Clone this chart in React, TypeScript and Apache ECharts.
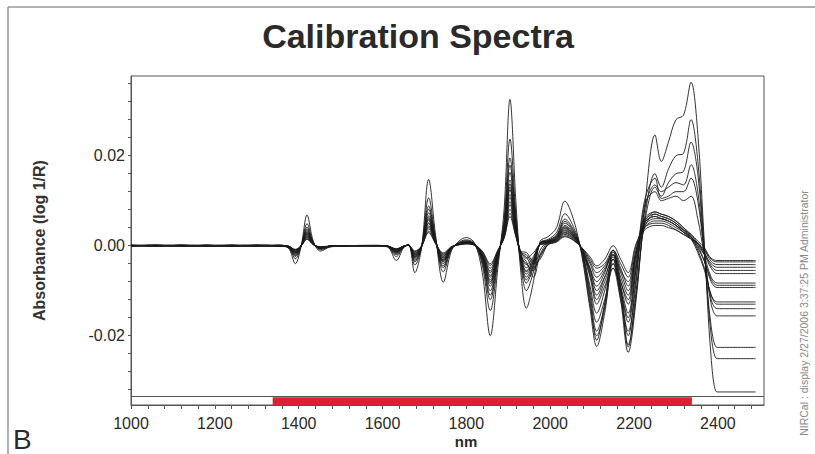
import React, { useEffect, useRef } from "react";
import * as echarts from "echarts";

// Wavelength sampling points (nm)
const wavelengths = [
  1000, 1060, 1120, 1180, 1240, 1300, 1350,
  1375, 1392, 1406, 1420, 1435, 1452, 1475, 1520, 1580, 1612, 1633, 1650, 1662, 1677,
  1693, 1710, 1727, 1745, 1765, 1785, 1800, 1820, 1838, 1857, 1875, 1890, 1904, 1918,
  1930, 1943, 1960, 1976, 1995, 2015, 2035, 2055, 2075, 2095,
  2111, 2130, 2150, 2168, 2186, 2205, 2225, 2250, 2265, 2282, 2300, 2318, 2336, 2352,
  2368, 2384, 2398, 2410, 2490,
];

// Second-derivative absorbance values, in units of 0.001 (log 1/R)
const spectrum01 = [0, 0.1, -0.1, 0.1, 0, -0.1, 0,
  -0.5, -4.0, 0, 6.8, 1.0, -1.2, -0.3, 0, 0, -0.3, -3.3, -0.5, 0.3, -6.0, -0.5, 14.7, 2.0, -8.1, -1.0, 1.2, 1.8, 0.5, -6.0, -20.0, -5.0, 8.0, 32.5, 10.0, -6.0, -13.9, -8.0, 1.0, 2.0, 4.0, 9.9, 6.0, -2.0, -14.0,
  -22.4, -15.0, -3.0, -12.0, -23.7, -12.0, 8.0, 24.6, 18.7, 23.0, 28.0, 29.0, 36.3, 25.0, 0, -25.0, -32.5, -32.5, -32.5];
const spectrum02 = [0.1, 0, 0.1, -0.1, 0.1, 0, -0.1,
  -0.4, -2.9, 0, 4.9, 0.7, -0.9, -0.2, 0, 0.1, -0.2, -2.4, -0.4, 0.2, -4.3, -0.4, 10.6, 1.4, -5.8, -0.7, 0.9, 1.3, 0.4, -4.3, -14.4, -3.6, 5.8, 23.7, 7.2, -4.3, -10.0, -5.8, 0.7, 1.4, 2.9, 7.1, 4.3, -1.4, -13.0,
  -20.0, -14.0, -4.0, -11.0, -22.0, -11.0, 6.0, 16.0, 13.0, 17.0, 20.0, 20.5, 28.0, 19.0, -1.0, -20.0, -25.1, -25.1, -25.1];
const spectrum03 = [-0.1, 0.1, 0, 0.1, -0.1, 0.1, 0,
  -0.3, -2.2, 0, 3.7, 0.6, -0.7, -0.2, 0, 0, -0.2, -1.8, -0.3, 0.2, -3.3, -0.3, 8.1, 1.1, -4.5, -0.6, 0.7, 1.0, 0.3, -3.3, -11.0, -2.8, 4.4, 17.9, 5.5, -3.3, -7.6, -4.4, 0.6, 1.1, 2.2, 5.4, 3.3, -1.1, -12.0,
  -21.0, -13.0, -2.0, -10.0, -22.5, -10.0, 5.0, 13.0, 11.0, 14.0, 16.0, 16.5, 23.0, 16.0, -2.0, -18.0, -22.6, -22.6, -22.6];
const spectrum04 = [0, -0.1, 0.1, 0, 0.1, 0, -0.1,
  -0.3, -2.0, 0, 3.4, 0.5, -0.6, -0.1, 0, 0, -0.1, -1.6, -0.3, 0.1, -3.0, -0.3, 7.3, 1.0, -4.0, -0.5, 0.6, 0.9, 0.3, -3.0, -10.0, -2.5, 4.0, 16.3, 5.0, -3.0, -7.0, -4.0, 0.5, 1.0, 2.0, 5.0, 3.0, -1.0, -10.0,
  -17.0, -12.0, -5.0, -12.0, -19.0, -7.0, 8.0, 13.5, 12.0, 13.0, 14.0, 13.5, 18.0, 12.0, -2.0, -13.0, -15.6, -15.6, -15.6];
const spectrum05 = [0.1, 0, -0.1, 0, 0.1, -0.1, 0.1,
  -0.2, -1.7, 0, 2.9, 0.4, -0.5, -0.1, 0, 0, -0.1, -1.4, -0.2, 0.1, -2.5, -0.2, 6.2, 0.8, -3.4, -0.4, 0.5, 0.8, 0.2, -2.5, -8.4, -2.1, 3.4, 13.7, 4.2, -2.5, -5.8, -3.4, 0.4, 0.8, 1.7, 4.2, 2.5, -1.0, -9.0,
  -15.0, -10.0, -3.0, -10.0, -17.0, -5.0, 10.0, 15.0, 10.5, 11.0, 12.0, 12.0, 15.0, 10.0, -2.0, -12.0, -14.0, -14.0, -14.0];
const spectrum06 = [0, 0.1, 0, -0.1, 0, 0.1, 0,
  -0.3, -2.4, 0, 4.1, 0.6, -0.7, -0.2, 0, 0, -0.2, -2.0, -0.3, 0.2, -3.6, -0.3, 8.8, 1.2, -4.9, -0.6, 0.7, 1.1, 0.3, -3.6, -12.0, -3.0, 4.8, 19.5, 6.0, -3.6, -8.3, -4.8, 0.6, 1.2, 2.4, 5.9, 3.6, -1.2, -11.0,
  -19.0, -13.0, -1.0, -9.0, -20.0, -8.0, 9.0, 12.0, 10.0, 10.5, 11.0, 10.0, 11.0, 6.0, -2.0, -7.0, -8.3, -8.3, -8.3];
const spectrum07 = [-0.1, 0, 0.1, 0, -0.1, 0, 0.1,
  -0.2, -1.5, 0, 2.6, 0.4, -0.5, -0.1, 0, 0, -0.1, -1.3, -0.2, 0.1, -2.3, -0.2, 5.6, 0.8, -3.1, -0.4, 0.5, 0.7, 0.2, -2.3, -7.6, -1.9, 3.0, 12.4, 3.8, -2.3, -4.0, -5.5, -1.0, 1.0, 1.5, 3.8, 2.3, -0.8, -6.0,
  -12.0, -8.0, -4.0, -9.0, -15.0, -4.0, 5.0, 7.5, 7.0, 6.5, 5.5, 4.0, 2.0, -1.0, -5.0, -11.0, -13.0, -13.0, -13.0];
const spectrum08 = [0, 0.1, -0.1, 0.1, 0, 0, -0.1,
  -0.2, -1.3, 0, 2.2, 0.3, -0.4, -0.1, 0, 0, -0.1, -1.1, -0.2, 0.1, -2.0, -0.2, 4.9, 0.7, -2.7, -0.3, 0.4, 0.6, 0.2, -2.0, -6.6, -1.7, 2.6, 10.7, 3.3, -2.0, -3.5, -7.0, -2.0, 0.8, 1.3, 3.3, 2.0, -0.7, -5.0,
  -10.0, -7.0, -3.0, -8.0, -13.0, -3.0, 5.5, 7.0, 6.5, 6.0, 5.0, 3.5, 1.5, -1.5, -5.5, -11.0, -12.5, -12.5, -12.5];
const spectrum09 = [0.1, -0.1, 0, 0.1, -0.1, 0.1, 0,
  -0.2, -1.8, 0, 3.1, 0.5, -0.5, -0.1, 0, 0, -0.1, -1.5, -0.2, 0.1, -2.7, -0.2, 6.6, 0.9, -3.6, -0.5, 0.5, 0.8, 0.2, -2.7, -9.0, -2.3, 3.6, 14.6, 4.5, -2.7, -6.3, -3.6, 0.5, 0.9, 1.8, 4.5, 2.7, -0.9, -7.0,
  -13.0, -9.0, -5.0, -10.0, -16.0, -5.0, 4.0, 7.0, 6.5, 6.0, 5.0, 3.5, 2.0, 0, -3.5, -8.0, -9.3, -9.3, -9.3];
const spectrum10 = [0, 0, 0.1, -0.1, 0, 0.1, -0.1,
  -0.1, -1.1, 0, 1.9, 0.3, -0.3, -0.1, 0, 0, -0.1, -0.9, -0.1, 0.1, -1.7, -0.1, 4.1, 0.6, -2.3, -0.3, 0.3, 0.5, 0.1, -1.7, -5.6, -1.4, 2.2, 9.1, 2.8, -1.7, -2.5, -5.0, -2.5, 0.5, 1.1, 2.8, 1.7, -0.6, -4.0,
  -7.0, -5.0, -2.0, -6.0, -10.0, -2.0, 5.0, 6.5, 6.0, 5.5, 4.5, 3.0, 1.5, -0.5, -3.5, -7.5, -8.8, -8.8, -8.8];
const spectrum11 = [0.1, 0, 0, 0.1, 0, -0.1, 0,
  -0.2, -1.4, 0, 2.4, 0.4, -0.4, -0.1, 0, 0, -0.1, -1.2, -0.2, 0.1, -2.1, -0.2, 5.1, 0.7, -2.8, -0.4, 0.4, 0.6, 0.2, -2.1, -7.0, -1.8, 2.8, 11.4, 3.5, -2.1, -4.9, -2.8, 0.4, 0.7, 1.4, 3.5, 2.1, -0.7, -5.5,
  -9.0, -6.0, -1.0, -5.0, -9.0, -1.0, 6.0, 7.5, 7.0, 6.5, 5.5, 4.0, 2.5, 0.5, -2.0, -5.0, -6.2, -6.2, -6.2];
const spectrum12 = [0, -0.1, 0.1, 0, 0.1, 0, 0,
  -0.1, -1.0, 0, 1.7, 0.3, -0.3, -0.1, 0, 0, -0.1, -0.8, -0.1, 0.1, -1.5, -0.1, 3.7, 0.5, -2.0, -0.3, 0.3, 0.5, 0.1, -1.5, -5.0, -1.3, 2.0, 8.1, 2.5, -1.5, -2.0, -4.0, -3.0, 0.3, 1.0, 2.5, 1.5, -0.5, -3.5,
  -6.0, -4.5, -1.5, -5.5, -8.0, -1.0, 4.0, 5.5, 5.5, 5.0, 4.0, 3.0, 2.0, 0.5, -1.5, -4.5, -5.5, -5.5, -5.5];
const spectrum13 = [-0.1, 0.1, 0, 0, 0.1, -0.1, 0.1,
  -0.2, -1.2, 0, 2.0, 0.3, -0.4, -0.1, 0, 0, -0.1, -1.0, -0.2, 0.1, -1.8, -0.2, 4.4, 0.6, -2.4, -0.3, 0.4, 0.5, 0.2, -1.8, -6.0, -1.5, 2.4, 9.8, 3.0, -1.8, -4.2, -2.4, 0.3, 0.6, 1.2, 3.0, 1.8, -0.6, -5.0,
  -8.0, -5.5, -2.0, -7.0, -11.0, -2.0, 4.5, 6.0, 6.0, 5.5, 4.5, 3.0, 1.5, 0, -2.0, -4.0, -4.8, -4.8, -4.8];
const spectrum14 = [0, 0.1, 0, -0.1, 0, 0.1, 0,
  -0.1, -0.9, 0, 1.5, 0.2, -0.3, -0.1, 0, 0, -0.1, -0.7, -0.1, 0.1, -1.3, -0.1, 3.2, 0.4, -1.8, -0.2, 0.3, 0.4, 0.1, -1.3, -4.4, -1.1, 1.8, 7.2, 2.2, -1.3, -1.5, -3.5, -2.0, 0.2, 0.9, 2.2, 1.3, -0.4, -3.0,
  -5.0, -4.0, -1.0, -4.0, -7.0, 0, 4.0, 5.0, 5.0, 4.5, 3.5, 2.5, 1.5, 0.5, -1.0, -3.5, -4.2, -4.2, -4.2];
const spectrum15 = [0.1, 0, -0.1, 0, 0, 0.1, -0.1,
  -0.2, -1.6, 0, 2.7, 0.4, -0.5, -0.1, 0, 0, -0.1, -1.3, -0.2, 0.1, -2.4, -0.2, 5.9, 0.8, -3.2, -0.4, 0.5, 0.7, 0.2, -2.4, -8.0, -2.0, 3.2, 13.0, 4.0, -2.4, -5.6, -3.2, 0.4, 0.8, 1.6, 4.0, 2.4, -0.8, -6.5,
  -11.0, -7.0, -2.5, -8.0, -12.0, -1.5, 5.0, 6.5, 6.0, 5.5, 4.5, 3.5, 2.5, 1.0, -0.5, -3.0, -3.6, -3.6, -3.6];
const spectrum16 = [0, 0, 0.1, 0, -0.1, 0, 0.1,
  -0.1, -0.8, 0, 1.4, 0.2, -0.2, -0.1, 0, 0, -0.1, -0.7, -0.1, 0.1, -1.2, -0.1, 2.9, 0.4, -1.6, -0.2, 0.2, 0.4, 0.1, -1.2, -4.0, -1.0, 1.6, 6.5, 2.0, -1.2, -2.8, -1.6, 0.2, 0.4, 0.8, 2.0, 1.2, -0.4, -2.5,
  -4.5, -3.0, 0, -3.0, -6.0, 0.5, 3.5, 4.5, 4.5, 4.0, 3.5, 2.5, 1.5, 0.5, -1.0, -2.8, -3.3, -3.3, -3.3];

const spectra = [
  spectrum01, spectrum02, spectrum03, spectrum04, spectrum05, spectrum06, spectrum07, spectrum08,
  spectrum09, spectrum10, spectrum11, spectrum12, spectrum13, spectrum14, spectrum15, spectrum16,
];
const VALUE_UNIT = 0.001;

const xTickLabels = [1000, 1200, 1400, 1600, 1800, 2000, 2200, 2400];
const xMinorTicks = [
  1000, 1040, 1080, 1120, 1160, 1200, 1240, 1280, 1320, 1360, 1400, 1440, 1480, 1520, 1560, 1600,
  1640, 1680, 1720, 1760, 1800, 1840, 1880, 1920, 1960, 2000, 2040, 2080, 2120, 2160, 2200, 2240,
  2280, 2320, 2360, 2400, 2440, 2480,
];
const yTickLabels = [-0.02, 0, 0.02];
const yMinorTicks = [
  -0.032, -0.028, -0.024, -0.02, -0.016, -0.012, -0.008, -0.004, 0, 0.004, 0.008, 0.012, 0.016,
  0.02, 0.024, 0.028, 0.032, 0.036,
];
const X_MIN = 1000;
const X_MAX = 2510;
const Y_MIN = -0.0354;
const Y_MAX = 0.0377;
const stripTop = -0.0335;
const calibrationRange = [1338, 2338];

const FONT = "'Liberation Sans', Arial, sans-serif";

export default function App() {
  const ref = useRef<HTMLDivElement>(null);

  useEffect(() => {
    if (!ref.current) return;
    const chart = echarts.init(ref.current, undefined, { renderer: "svg" });

    const series: any[] = spectra.map((s) => ({
      type: "line",
      data: wavelengths.map((w, i) => [w, s[i] * VALUE_UNIT]),
      showSymbol: false,
      smooth: 0.35,
      lineStyle: { color: "#1c1c1c", width: 0.9 },
      silent: true,
      z: 3,
    }));

    series[0].markLine = {
      silent: true,
      symbol: "none",
      label: { show: false },
      lineStyle: { color: "#555", width: 1, type: "solid" },
      data: [[
        { coord: [X_MIN, stripTop] },
        { coord: [X_MAX, stripTop] },
      ]],
    };
    series[0].markArea = {
      silent: true,
      itemStyle: { color: "#dc1f33" },
      data: [[
        { coord: [calibrationRange[0], Y_MIN] },
        { coord: [calibrationRange[1], stripTop - 0.0002] },
      ]],
    };

    chart.setOption({
      animation: false,
      backgroundColor: "#ffffff",
      grid: {
        left: 131, right: 51, top: 76, bottom: 49,
        show: true, borderColor: "#555", borderWidth: 1,
      },
      xAxis: {
        type: "value",
        min: X_MIN,
        max: X_MAX,
        axisLine: { show: true, onZero: false, lineStyle: { color: "#555", width: 1 } },
        axisTick: {
          show: true, length: 4, inside: false,
          lineStyle: { color: "#555" },
          customValues: xMinorTicks,
        },
        axisLabel: {
          customValues: xTickLabels,
          fontFamily: FONT, fontSize: 16, color: "#2a2a2a", margin: 10,
          formatter: (v: number) => String(v),
        },
        splitLine: { show: false },
      },
      yAxis: {
        type: "value",
        min: Y_MIN,
        max: Y_MAX,
        name: "Absorbance (log 1/R)",
        nameLocation: "middle",
        nameGap: 84,
        nameRotate: 90,
        nameTextStyle: { fontFamily: FONT, fontSize: 16, fontWeight: "bold", color: "#333" },
        axisLine: { show: true, onZero: false, lineStyle: { color: "#555", width: 1 } },
        axisTick: {
          show: true, length: 3, inside: false,
          lineStyle: { color: "#555" },
          customValues: yMinorTicks,
        },
        axisLabel: {
          customValues: yTickLabels,
          fontFamily: FONT, fontSize: 16, color: "#2a2a2a", margin: 6,
          formatter: (v: number) => v.toFixed(2),
        },
        splitLine: { show: false },
      },
      graphic: [
        { type: "line", shape: { x1: 8, y1: 7, x2: 815, y2: 7 }, style: { stroke: "#999", lineWidth: 1.5 }, silent: true },
        { type: "line", shape: { x1: 8, y1: 7, x2: 8, y2: 454 }, style: { stroke: "#999", lineWidth: 1.5 }, silent: true },
        {
          type: "text", x: 418, y: 36,
          style: {
            text: "Calibration Spectra", fontFamily: FONT, fontSize: 34, fontWeight: "bold",
            fill: "#2a2a2a", textAlign: "center", textVerticalAlign: "middle",
          },
        },
        {
          type: "text", x: 466, y: 441,
          style: {
            text: "nm", fontFamily: FONT, fontSize: 15, fontWeight: "bold",
            fill: "#2a2a2a", textAlign: "center", textVerticalAlign: "middle",
          },
        },
        {
          type: "text", x: 13, y: 439,
          style: {
            text: "B", fontFamily: FONT, fontSize: 28,
            fill: "#2a2a2a", textAlign: "left", textVerticalAlign: "middle",
          },
        },
        {
          type: "text", x: 804, y: 313, rotation: Math.PI / 2,
          style: {
            text: "NIRCal : display 2/27/2006 3:37:25 PM Administrator", fontFamily: FONT, fontSize: 10.5,
            fill: "#888", textAlign: "center", textVerticalAlign: "middle",
          },
        },
      ],
      series,
    });

    return () => chart.dispose();
  }, []);

  return (
    <div
      ref={ref}
      style={{ position: "fixed", left: 0, top: 0, width: 815, height: 454, background: "#fff" }}
    />
  );
}
